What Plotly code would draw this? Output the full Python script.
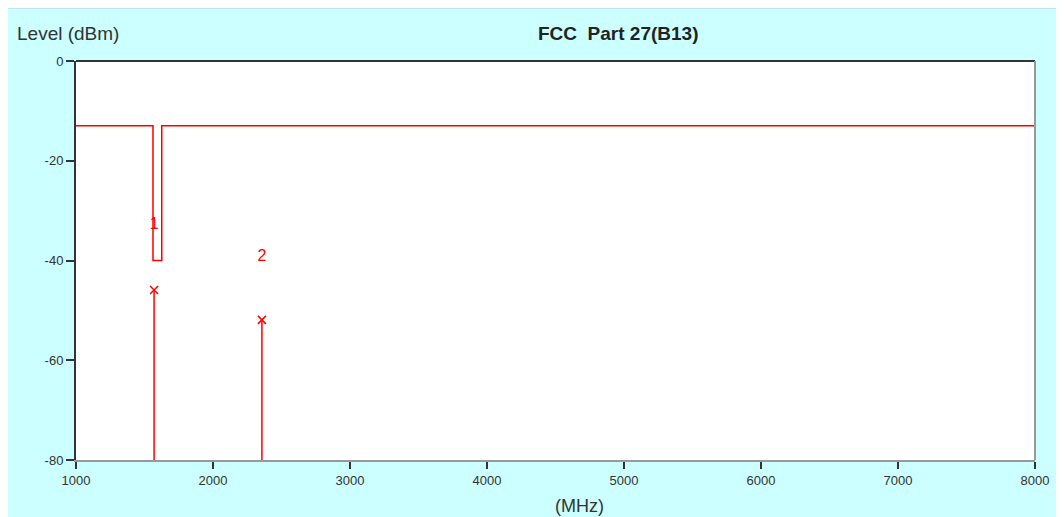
import plotly.graph_objects as go

# limit line (FCC Part 27, B13): -13 dBm with -40 dBm notch in the GPS band
limit_freq = [1000, 1562, 1562, 1626, 1626, 8000]
limit_level = [-13, -13, -40, -40, -13, -13]

# measured spurious markers
marker_id = ["1", "2"]
marker_freq = [1570, 2357]
marker_level = [-45.9, -51.9]
label_level = [-32.9, -39.3]

x_ticks = [1000, 2000, 3000, 4000, 5000, 6000, 7000, 8000]
y_ticks = [0, -20, -40, -60, -80]

RED = "#FF0000"
CYAN = "#CCFFFF"
DARK = "#333333"
FONT = "Liberation Sans, Arial"

fig = go.Figure()

fig.add_trace(go.Scatter(
    x=limit_freq, y=limit_level, mode="lines",
    line=dict(color=RED, width=1.5), showlegend=False,
))

# vertical sticks from the floor to each marker
for f, lv in zip(marker_freq, marker_level):
    fig.add_trace(go.Scatter(
        x=[f, f], y=[-80, lv], mode="lines",
        line=dict(color=RED, width=1.5), showlegend=False,
    ))

fig.add_trace(go.Scatter(
    x=marker_freq, y=marker_level, mode="markers",
    marker=dict(symbol="x-thin", size=8, line=dict(color=RED, width=1.5)),
    showlegend=False,
))

fig.add_trace(go.Scatter(
    x=marker_freq, y=label_level, mode="text", text=marker_id,
    textfont=dict(color=RED, size=16, family=FONT), showlegend=False,
))

# grey border round the cyan panel
fig.add_shape(type="rect", xref="paper", yref="paper",
              x0=-0.074, x1=1.05, y0=-0.2, y1=1.135,
              line=dict(color="#999999", width=2), layer="below")
# top and right frame edges of the plot area
fig.add_shape(type="line", xref="paper", yref="paper", x0=0, x1=1, y0=1, y1=1,
              line=dict(color=DARK, width=2))
fig.add_shape(type="line", xref="paper", yref="paper", x0=1, x1=1, y0=0, y1=1,
              line=dict(color="#999999", width=2))

fig.add_annotation(text="Level (dBm)", xref="paper", yref="paper",
                   x=-0.064, y=1.07, xanchor="left", yanchor="middle",
                   showarrow=False, font=dict(size=19, color=DARK, family=FONT))
fig.add_annotation(text="<b>FCC  Part 27(B13)</b>", xref="paper", yref="paper",
                   x=0.566, y=1.07, xanchor="center", yanchor="middle",
                   showarrow=False, font=dict(size=19, color="#222222", family=FONT))
fig.add_annotation(text="(MHz)", xref="paper", yref="paper",
                   x=0.525, y=-0.115, xanchor="center", yanchor="middle",
                   showarrow=False, font=dict(size=18, color=DARK, family=FONT))

fig.update_layout(
    width=1056, height=509,
    margin=dict(l=68, r=29, t=53, b=57),
    paper_bgcolor=CYAN, plot_bgcolor="white",
    font=dict(family=FONT, size=13, color=DARK),
)
fig.update_xaxes(
    range=[1000, 8000], tickvals=x_ticks, ticktext=[str(v) for v in x_ticks],
    showgrid=False, zeroline=False, showline=True, linecolor="#999999", linewidth=2,
    ticks="outside", ticklen=7, tickwidth=2, tickcolor=DARK,
    tickfont=dict(size=13, color=DARK),
)
fig.update_yaxes(
    range=[-80, 0], tickvals=y_ticks, ticktext=[str(v) for v in y_ticks],
    showgrid=False, zeroline=False, showline=True, linecolor=DARK, linewidth=2,
    ticks="outside", ticklen=8, tickwidth=2, tickcolor=DARK,
    tickfont=dict(size=13, color=DARK),
)

fig.write_html("out.html")
